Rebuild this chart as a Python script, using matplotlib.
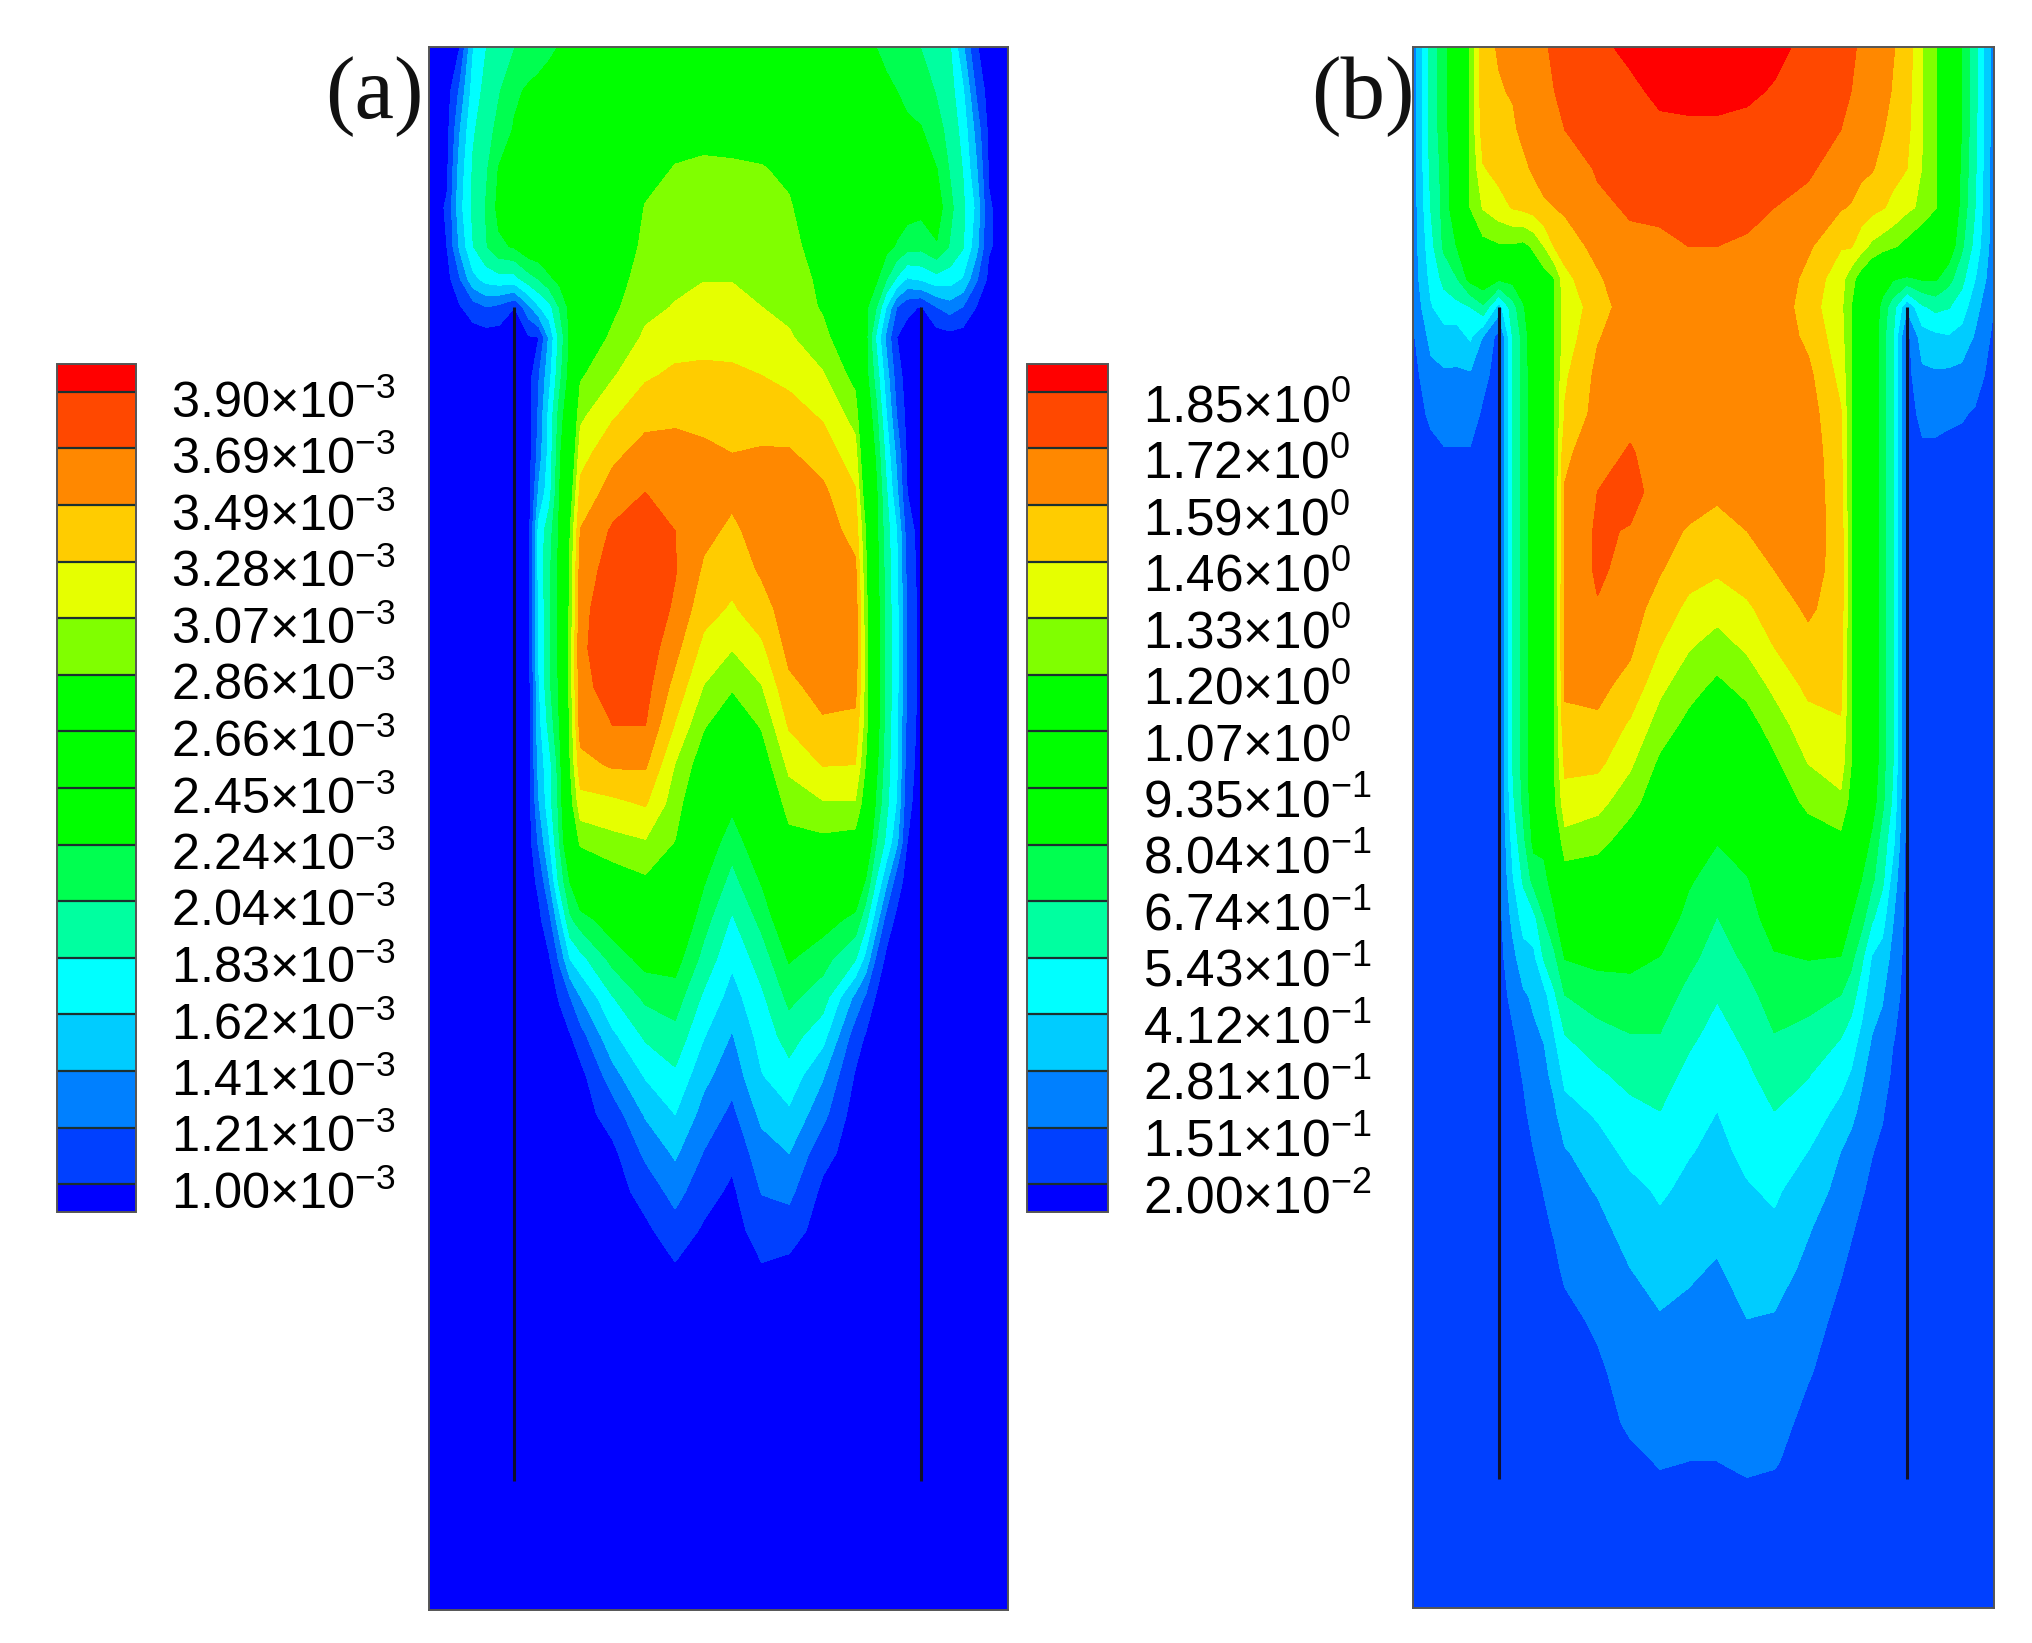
import numpy as np
import matplotlib
matplotlib.use('Agg')
import matplotlib.pyplot as plt

plt.rcParams['font.family'] = ['Liberation Sans', 'DejaVu Sans']
plt.rcParams['mathtext.default'] = 'regular'

W, H = 2032, 1643

# Node positions of the field, measured along the channel width and down its height
x_nodes = [0, 14, 24, 34, 44, 54, 66, 77, 85, 93, 101, 109, 117, 142, 167, 190, 212,
           234, 257, 278, 304, 329, 337, 345, 353, 361, 369, 380, 392, 402, 412, 422, 432, 447]
y_nodes = [36, 70, 100, 130, 160, 190, 215, 237, 260, 290, 320, 350, 380, 410, 440, 470,
           500, 530, 560, 590, 620, 650, 680, 710, 740, 770, 800, 830, 860, 890, 920, 950,
           980, 1020, 1060, 1100, 1130, 1155, 1243]
wall_x = [66, 380]
wall_y = [237, 1143]

levels_a = [1.00, 1.21, 1.41, 1.62, 1.83, 2.04, 2.24, 2.45, 2.66, 2.86, 3.07, 3.28, 3.49, 3.69, 3.90]
levels_b = [0.02, 0.151, 0.281, 0.412, 0.543, 0.674, 0.804, 0.935, 1.07, 1.20, 1.33, 1.46, 1.59, 1.72, 1.85]
labels_a = ['3.90', '3.69', '3.49', '3.28', '3.07', '2.86', '2.66', '2.45', '2.24', '2.04',
            '1.83', '1.62', '1.41', '1.21', '1.00']
labels_b = [('1.85', '0'), ('1.72', '0'), ('1.59', '0'), ('1.46', '0'), ('1.33', '0'), ('1.20', '0'),
            ('1.07', '0'), ('9.35', '-1'), ('8.04', '-1'), ('6.74', '-1'), ('5.43', '-1'), ('4.12', '-1'),
            ('2.81', '-1'), ('1.51', '-1'), ('2.00', '-2')]
band_colors = ['#0000ff', '#0040ff', '#0080ff', '#00ccff', '#00ffff', '#00ffa0', '#00ff50', '#00ff00',
               '#00ff00', '#00ff00', '#80ff00', '#e6ff00', '#ffcc00', '#ff8800', '#ff4800', '#ff0000']


def col(*vals):
    # values down one column, the last one holds to the bottom
    vals = list(vals)
    return vals + [vals[-1]] * (len(y_nodes) - len(vals))


# panel (a), units of 1e-3, one list per x node
field_a = [
    col(.9),
    col(.9, .9, .93, .96, 1.02, 1.0, .92, .9),
    col(1.0, 1.25, 1.4, 1.5, 1.55, 1.45, 1.2, .98, .9),
    col(1.6, 1.7, 1.8, 1.85, 1.87, 1.82, 1.55, 1.1, .9),
    col(1.82, 1.9, 1.95, 2.0, 2.05, 2.02, 1.7, 1.2, .9),
    col(1.95, 2.02, 2.1, 2.25, 2.3, 2.2, 1.75, 1.15, .9),
    col(2.03, 2.2, 2.26, 2.35, 2.38, 2.26, 1.75, 1.0, .9),
    col(2.1, 2.27, 2.35, 2.42, 2.45, 2.4, 1.95, 1.35, .98, .9),
    col(2.15, 2.3, 2.38, 2.43, 2.47, 2.42, 2.05, 1.6, 1.0, 1.2, 1.25, 1.3, 1.45, 1.7, 1.7, 1.65, 1.65, 1.6,
        1.55, 1.5, 1.4, 1.25, 1.05, .95, .9),
    col(2.2, 2.33, 2.4, 2.45, 2.48, 2.44, 2.2, 1.75, 1.45, 1.55, 1.68, 1.7, 1.75, 1.95, 2.0, 2.0, 2.0, 2.0,
        1.9, 1.75, 1.75, 1.6, 1.4, 1.15, .98, .9),
    col(2.25, 2.36, 2.42, 2.46, 2.48, 2.44, 2.3, 2.05, 1.9, 1.98, 2.12, 2.2, 2.24, 2.28, 2.3, 2.3, 2.3, 2.28,
        2.25, 2.15, 2.1, 2.05, 1.9, 1.55, 1.25, 1.02, .9),
    col(2.3, 2.38, 2.42, 2.46, 2.48, 2.46, 2.42, 2.3, 2.28, 2.32, 2.45, 2.55, 2.7, 2.85, 2.9, 2.92, 2.94, 2.95,
        2.9, 2.85, 2.75, 2.55, 2.25, 2.0, 1.62, 1.2, .98, .9),
    col(2.35, 2.38, 2.4, 2.42, 2.44, 2.48, 2.52, 2.56, 2.66, 2.83, 3.02, 3.19, 3.35, 3.5, 3.58, 3.64, 3.66, 3.64,
        3.58, 3.42, 3.2, 2.9, 2.54, 2.14, 1.76, 1.4, 1.12, .93, .9),
    col(2.48, 2.5, 2.52, 2.56, 2.6, 2.68, 2.75, 2.81, 2.9, 3.05, 3.25, 3.44, 3.58, 3.72, 3.78, 3.8, 3.79, 3.76,
        3.69, 3.52, 3.23, 3.0, 2.72, 2.37, 2.11, 1.82, 1.57, 1.33, 1.1, .95, .9),
    col(2.55, 2.62, 2.7, 2.78, 2.87, 2.91, 2.96, 3.02, 3.1, 3.25, 3.42, 3.57, 3.69, 3.75, 3.8, 3.82, 3.81, 3.76,
        3.69, 3.52, 3.3, 3.05, 2.82, 2.56, 2.32, 2.08, 1.86, 1.64, 1.43, 1.25, 1.08, .95, .9),
    col(2.58, 2.68, 2.78, 2.87, 2.93, 2.98, 3.03, 3.08, 3.19, 3.32, 3.45, 3.56, 3.64, 3.69, 3.7, 3.66, 3.55, 3.42,
        3.26, 3.06, 2.96, 2.85, 2.68, 2.49, 2.33, 2.14, 1.97, 1.79, 1.62, 1.44, 1.28, 1.12, .97, .9),
    col(2.6, 2.7, 2.8, 2.89, 2.95, 3.01, 3.06, 3.14, 3.22, 3.32, 3.43, 3.53, 3.56, 3.54, 3.46, 3.36, 3.22, 3.06,
        2.88, 2.72, 2.56, 2.4, 2.26, 2.12, 1.97, 1.79, 1.63, 1.47, 1.33, 1.2, 1.08, .97, .92, .9),
    col(2.6, 2.7, 2.8, 2.88, 2.93, 3.0, 3.06, 3.13, 3.22, 3.31, 3.4, 3.49, 3.53, 3.45, 3.36, 3.25, 3.08, 2.88,
        2.69, 2.49, 2.29, 2.12, 1.97, 1.8, 1.66, 1.53, 1.39, 1.28, 1.16, 1.05, .96, .92, .9),
    col(2.6, 2.68, 2.77, 2.87, 2.93, 2.99, 3.02, 3.07, 3.16, 3.28, 3.4, 3.51, 3.57, 3.57, 3.52, 3.4, 3.24, 3.06,
        2.88, 2.72, 2.56, 2.42, 2.26, 2.1, 1.93, 1.79, 1.7, 1.61, 1.46, 1.32, 1.22, 1.09, .98, .9),
    col(2.58, 2.65, 2.73, 2.82, 2.88, 2.93, 2.98, 3.02, 3.09, 3.22, 3.37, 3.51, 3.56, 3.6, 3.62, 3.6, 3.55, 3.44,
        3.3, 3.12, 2.95, 2.78, 2.62, 2.44, 2.26, 2.09, 1.92, 1.75, 1.58, 1.41, 1.26, 1.1, .93, .9),
    col(2.52, 2.56, 2.6, 2.64, 2.68, 2.74, 2.8, 2.83, 2.93, 3.09, 3.25, 3.4, 3.53, 3.6, 3.64, 3.64, 3.62, 3.56,
        3.46, 3.29, 3.05, 2.8, 2.52, 2.33, 2.12, 1.93, 1.69, 1.43, 1.27, 1.07, .95, .9),
    col(2.32, 2.34, 2.36, 2.38, 2.4, 2.42, 2.46, 2.5, 2.6, 2.78, 2.98, 3.15, 3.3, 3.41, 3.53, 3.6, 3.62, 3.56,
        3.43, 3.28, 3.05, 2.76, 2.46, 2.18, 1.85, 1.35, 1.1, .98, .9),
    col(2.28, 2.32, 2.36, 2.38, 2.4, 2.4, 2.38, 2.28, 2.3, 2.32, 2.42, 2.55, 2.68, 2.85, 2.9, 2.95, 2.98, 2.98,
        2.95, 2.85, 2.72, 2.5, 2.22, 1.9, 1.55, 1.18, .98, .9),
    col(2.24, 2.3, 2.34, 2.36, 2.38, 2.36, 2.28, 2.05, 1.8, 1.95, 2.1, 2.2, 2.28, 2.3, 2.34, 2.36, 2.38, 2.38,
        2.36, 2.3, 2.2, 2.05, 1.82, 1.5, 1.18, .98, .9),
    col(2.2, 2.27, 2.32, 2.35, 2.36, 2.3, 2.05, 1.6, 1.35, 1.5, 1.62, 1.75, 1.85, 1.92, 1.95, 1.95, 1.98, 1.98,
        1.95, 1.92, 1.88, 1.78, 1.45, 1.12, .95, .9),
    col(2.15, 2.24, 2.3, 2.33, 2.34, 2.22, 1.8, 1.2, 1.0, 1.1, 1.2, 1.35, 1.45, 1.62, 1.65, 1.68, 1.7, 1.68,
        1.65, 1.65, 1.6, 1.45, 1.1, .95, .9),
    col(2.1, 2.2, 2.27, 2.32, 2.33, 2.12, 1.6, 1.05, .92, .9, .93, .96, 1.0, 1.1, 1.15, 1.18, 1.2, 1.2,
        1.15, 1.1, 1.05, 1.0, .92, .9),
    col(2.03, 2.15, 2.25, 2.3, 2.3, 2.1, 1.65, .98, .9),
    col(1.95, 2.02, 2.1, 2.24, 2.34, 2.22, 1.75, 1.2, .9),
    col(1.85, 1.92, 1.98, 2.02, 2.1, 2.02, 1.72, 1.3, .92, .9),
    col(1.45, 1.65, 1.75, 1.82, 1.87, 1.85, 1.6, 1.2, .9),
    col(1.02, 1.2, 1.35, 1.45, 1.58, 1.5, 1.25, 1.0, .9),
    col(.9, .9, .95, .98, 1.02, 1.02, .95, .9),
    col(.9),
]

# panel (b), one list per x node
field_b = [
    col(.2, .2, .2, .2, .2, .2, .2, .17, .13, .1),
    col(.6, .6, .6, .58, .55, .5, .45, .4, .32, .24, .17, .12, .1),
    col(.75, .75, .74, .72, .72, .7, .58, .48, .36, .26, .2, .14, .1),
    col(.95, .95, .95, .93, .92, .81, .67, .5, .35, .26, .2, .14, .1),
    col(1.22, 1.22, 1.22, 1.2, 1.2, 1.05, .85, .54, .43, .26, .2, .14, .1),
    col(1.55, 1.54, 1.52, 1.45, 1.34, 1.15, .9, .65, .27, .18, .13, .1),
    col(1.6, 1.58, 1.55, 1.5, 1.41, 1.18, .83, .35, .1),
    col(1.62, 1.6, 1.57, 1.53, 1.47, 1.18, .85, .62, *[.56] * 11, .55, .52, .46, .4, .32, .24, .18, .14, .11, .1),
    col(1.66, 1.65, 1.62, 1.56, 1.49, 1.16, .95, .78, *[.72] * 12, .7, .64, .56, .46, .36, .26, .19, .16, .13, .1),
    col(1.68, 1.67, 1.65, 1.61, 1.52, 1.22, 1.1, .98, .92, *[.9] * 11, .88, .84, .72, .5, .38, .3, .26, .22, .19,
        .15, .12, .1),
    col(1.7, 1.69, 1.67, 1.64, 1.57, 1.33, 1.13, 1.1, 1.06, *[1.05] * 11, 1.02, .85, .75, .67, .56, .36, .29, .25,
        .21, .18, .155, .13, .11, .1),
    col(1.75, 1.72, 1.7, 1.66, 1.59, 1.47, 1.2, *[1.2] * 13, 1.18, 1.05, .9, .77, .65, .52, .41, .32, .26, .23,
        .2, .16, .13, .1),
    col(1.8, 1.75, 1.72, 1.66, 1.61, 1.52, 1.42, 1.38, 1.38, 1.44, 1.47, 1.56, 1.6, 1.6, 1.61, 1.62, 1.62, 1.61,
        1.56, 1.49, 1.41, 1.28, 1.12, .99, .81, .67, .54, .45, .36, .27, .23, .2, .17, .12, .1),
    col(1.82, 1.8, 1.77, 1.73, 1.7, 1.63, 1.57, 1.52, 1.58, 1.62, 1.64, 1.68, 1.72, 1.74, 1.74, 1.71, 1.67, 1.62,
        1.57, 1.49, 1.37, 1.25, 1.1, .99, .84, .73, .63, .52, .43, .35, .29, .24, .21, .17, .13, .1),
    col(1.88, 1.82, 1.79, 1.75, 1.73, 1.7, 1.68, 1.67, 1.66, 1.67, 1.69, 1.73, 1.77, 1.71, 1.68, 1.65, 1.61, 1.55,
        1.44, 1.35, 1.25, 1.12, 1.0, .9, .84, .75, .67, .59, .5, .45, .37, .33, .28, .25, .2, .17, .12, .1),
    col(1.95, 1.88, 1.82, 1.77, 1.74, 1.7, 1.68, 1.67, 1.67, 1.67, 1.67, 1.67, 1.66, 1.63, 1.6, 1.53, 1.46, 1.36,
        1.27, 1.17, 1.1, 1.03, .96, .89, .8, .74, .67, .6, .54, .5, .43, .38, .33, .27, .23, .19, .16, .12),
    col(1.98, 1.9, 1.82, 1.8, 1.76, 1.72, 1.7, 1.68, 1.67, 1.67, 1.67, 1.66, 1.64, 1.58, 1.51, 1.43, 1.34, 1.25,
        1.16, 1.07, 1.02, .94, .82, .76, .71, .63, .57, .51, .46, .42, .38, .34, .3, .25, .22, .18, .15, .12),
    col(1.98, 1.9, 1.82, 1.8, 1.76, 1.72, 1.7, 1.69, 1.68, 1.67, 1.65, 1.63, 1.61, 1.55, 1.48, 1.38, 1.27, 1.17,
        1.08, 1.0, .93, .81, .74, .67, .61, .55, .5, .46, .41, .38, .35, .31, .27, .24, .2, .17, .15, .12),
    col(1.95, 1.87, 1.82, 1.78, 1.74, 1.71, 1.69, 1.68, 1.68, 1.67, 1.66, 1.65, 1.63, 1.59, 1.52, 1.44, 1.35, 1.24,
        1.14, 1.06, .99, .9, .79, .74, .7, .63, .57, .52, .47, .44, .4, .37, .33, .28, .24, .2, .17, .13),
    col(1.88, 1.84, 1.8, 1.76, 1.72, 1.7, 1.69, 1.68, 1.67, 1.67, 1.66, 1.65, 1.63, 1.61, 1.59, 1.52, 1.46, 1.36,
        1.26, 1.17, 1.1, 1.02, .95, .87, .79, .73, .67, .6, .54, .49, .43, .39, .34, .27, .23, .19, .16, .12),
    col(1.82, 1.79, 1.76, 1.74, 1.68, 1.61, 1.55, 1.52, 1.56, 1.62, 1.65, 1.67, 1.67, 1.66, 1.64, 1.61, 1.55, 1.49,
        1.41, 1.33, 1.23, 1.12, 1.03, .93, .81, .72, .63, .55, .49, .41, .35, .29, .25, .2, .16, .12, .1),
    col(1.76, 1.74, 1.72, 1.66, 1.6, 1.47, 1.38, 1.36, 1.38, 1.42, 1.47, 1.49, 1.51, 1.53, 1.54, 1.53, 1.51, 1.49,
        1.45, 1.39, 1.3, 1.16, 1.05, .93, .8, .67, .55, .46, .37, .28, .24, .2, .16, .12, .1),
    col(1.74, 1.72, 1.7, 1.65, 1.58, 1.47, 1.25, *[1.2] * 13, 1.15, 1.08, .95, .8, .71, .6, .49, .4, .31, .24,
        .2, .16, .13, .1),
    col(1.7, 1.68, 1.66, 1.62, 1.53, 1.38, 1.12, 1.08, *[1.05] * 12, 1.02, .9, .8, .72, .57, .47, .38, .3, .25,
        .21, .16, .13, .11, .1),
    col(1.68, 1.66, 1.63, 1.6, 1.5, 1.3, 1.02, .95, *[.92] * 12, .87, .77, .7, .56, .4, .33, .28, .23, .19, .155,
        .13, .11, .1),
    col(1.66, 1.64, 1.6, 1.55, 1.47, 1.26, .9, .75, *[.72] * 12, .7, .62, .57, .46, .36, .29, .25, .21, .16, .13, .1),
    col(1.6, 1.58, 1.55, 1.5, 1.43, 1.22, .82, .6, *[.56] * 11, .55, .52, .45, .36, .29, .24, .2, .16, .13, .1),
    col(1.53, 1.51, 1.49, 1.46, 1.36, 1.15, .78, .3, .1),
    col(1.33, 1.33, 1.33, 1.32, 1.3, 1.05, .82, .52, .35, .25, .18, .13, .1),
    col(1.22, 1.22, 1.22, 1.21, 1.21, .92, .82, .58, .38, .26, .18, .13, .1),
    col(1.0, 1.0, 1.0, .98, .97, .9, .72, .55, .4, .25, .17, .12, .1),
    col(.8, .8, .8, .78, .76, .7, .58, .48, .36, .24, .16, .12, .1),
    col(.6, .6, .58, .57, .55, .5, .42, .33, .27, .2, .14, .11, .1),
    col(.2, .2, .2, .2, .2, .2, .18, .15, .12, .1),
]


def px_axes(left, top, right, bottom):
    return fig.add_axes([left / W, 1 - bottom / H, (right - left) / W, (bottom - top) / H])


def panel(field, levels, box):
    ax = px_axes(*box)
    Z = np.array(field).T
    cf = ax.contourf(x_nodes, y_nodes, Z, levels=levels, colors=band_colors, extend='both')
    cf.set_edgecolor('face')
    cf.set_linewidth(0.3)
    for x in wall_x:
        ax.plot([x, x], wall_y, color='#10102a', lw=2.2, solid_capstyle='butt')
    ax.set_xlim(0, 447)
    ax.set_ylim(y_nodes[-1], y_nodes[0])
    ax.set_xticks([])
    ax.set_yticks([])
    for s in ax.spines.values():
        s.set_color('#555555')
        s.set_linewidth(1.4)
    return cf


def colorbar(cf, box):
    cax = px_axes(*box)
    cb = fig.colorbar(cf, cax=cax, drawedges=True, extendrect=True, extendfrac=0.035, spacing='uniform')
    cb.set_ticks([])
    cb.dividers.set_color('#1c3030')
    cb.dividers.set_linewidth(1.6)
    cb.outline.set_edgecolor('#555555')
    cb.outline.set_linewidth(1.4)


fig = plt.figure(figsize=(W / 100, H / 100), dpi=100, facecolor='white')

cf_a = panel(field_a, levels_a, (429, 47, 1008, 1610))
cf_b = panel(field_b, levels_b, (1413, 47, 1994, 1608))
colorbar(cf_a, (57, 364, 136, 1212))
colorbar(cf_b, (1027, 364, 1108, 1212))

for i, lab in enumerate(labels_a):
    fig.text(171 / W, 1 - (418 + i * 56.5) / H, r'$\mathregular{%s{\times}10^{-3}}$' % lab, fontsize=36.3, color='#000000')
for i, (lab, exp) in enumerate(labels_b):
    fig.text(1143 / W, 1 - (422 + i * 56.5) / H, r'$\mathregular{%s{\times}10^{%s}}$' % (lab, exp), fontsize=37, color='#000000')

fig.text(325 / W, 1 - 118 / H, '(a)', fontsize=64, family='Liberation Serif', color='#111111')
fig.text(1311 / W, 1 - 118 / H, '(b)', fontsize=64, family='Liberation Serif', color='#111111')

fig.savefig('out.png', dpi=100)
